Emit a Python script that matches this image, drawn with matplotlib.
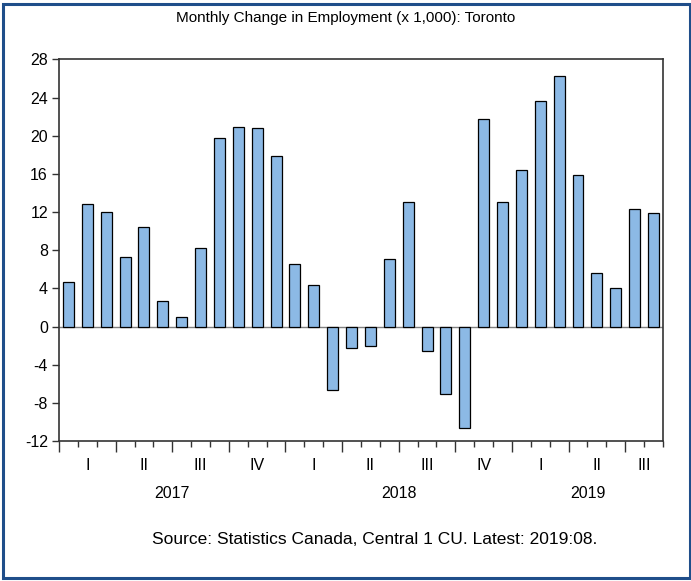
import matplotlib
matplotlib.use('Agg')
import matplotlib.pyplot as plt
import matplotlib.transforms as mtransforms
from matplotlib.patches import Rectangle
import numpy as np

plt.rcParams['font.family'] = ['Liberation Sans', 'DejaVu Sans']

# monthly change in employment, Jan 2017 .. Aug 2019 (thousands)
values = [4.7, 12.9, 12.0, 7.3, 10.4, 2.7, 1.0, 8.2, 19.8, 20.9, 20.8, 17.9,
          6.6, 4.4, -6.7, -2.3, -2.0, 7.1, 13.1, -2.6, -7.1, -10.6, 21.8, 13.1,
          16.4, 23.6, 26.3, 15.9, 5.6, 4.0, 12.3, 11.9]
quarter_labels = ['I', 'II', 'III', 'IV', 'I', 'II', 'III', 'IV', 'I', 'II', 'III']
year_labels = ['2017', '2018', '2019']
y_ticks = [-12, -8, -4, 0, 4, 8, 12, 16, 20, 24, 28]

n = len(values)
x = np.arange(n) + 0.5

fig = plt.figure(figsize=(6.91, 5.81), dpi=100)
ax = fig.add_axes([0.0854, 0.241, 0.874, 0.6566])

ax.bar(x, values, width=0.58, color='#8cb9e5', edgecolor='black', linewidth=0.9, zorder=3)
ax.axhline(0, color='#808080', linewidth=1.0, zorder=2)

ax.set_xlim(0, n)
ax.set_ylim(-12, 28)
ax.set_yticks(y_ticks)
ax.set_yticklabels([str(v) for v in y_ticks], fontsize=11.5)

# month ticks (minor) and quarter boundaries (major)
ax.set_xticks(np.arange(0, n, 3))
ax.set_xticklabels([])
ax.set_xticks(np.arange(0, n + 1), minor=True)
ax.tick_params(axis='x', which='major', length=8, width=1, color='#333333')
ax.tick_params(axis='x', which='minor', length=4, width=1, color='#333333')
ax.tick_params(axis='y', length=5, width=1, color='#333333', pad=3)

for s in ax.spines.values():
    s.set_linewidth(1.2)
    s.set_color('#333333')

trans = mtransforms.blended_transform_factory(ax.transData, fig.transFigure)
for i, lab in enumerate(quarter_labels):
    start = i * 3
    end = min(start + 3, n)
    ax.text((start + end) / 2, 1 - 465 / 581, lab, transform=trans,
            ha='center', va='center', fontsize=11.5)
for i, lab in enumerate(year_labels):
    start = i * 12
    end = min(start + 12, n)
    ax.text((start + end) / 2, 1 - 494 / 581, lab, transform=trans,
            ha='center', va='center', fontsize=11.5)

fig.text(0.5, 1 - 18 / 581, 'Monthly Change in Employment (x 1,000): Toronto',
         ha='center', va='center', fontsize=11)
fig.text(375 / 691, 1 - 540 / 581, 'Source: Statistics Canada, Central 1 CU. Latest: 2019:08.',
         ha='center', va='center', fontsize=12.5)

fig.patches.append(Rectangle((2.8 / 691, 2.8 / 581), (690 - 2.8) / 691, (578.5 - 4.5) / 581,
                             transform=fig.transFigure, fill=False,
                             edgecolor='#1f4e8a', linewidth=2.2))

fig.savefig('out.png', dpi=100)
